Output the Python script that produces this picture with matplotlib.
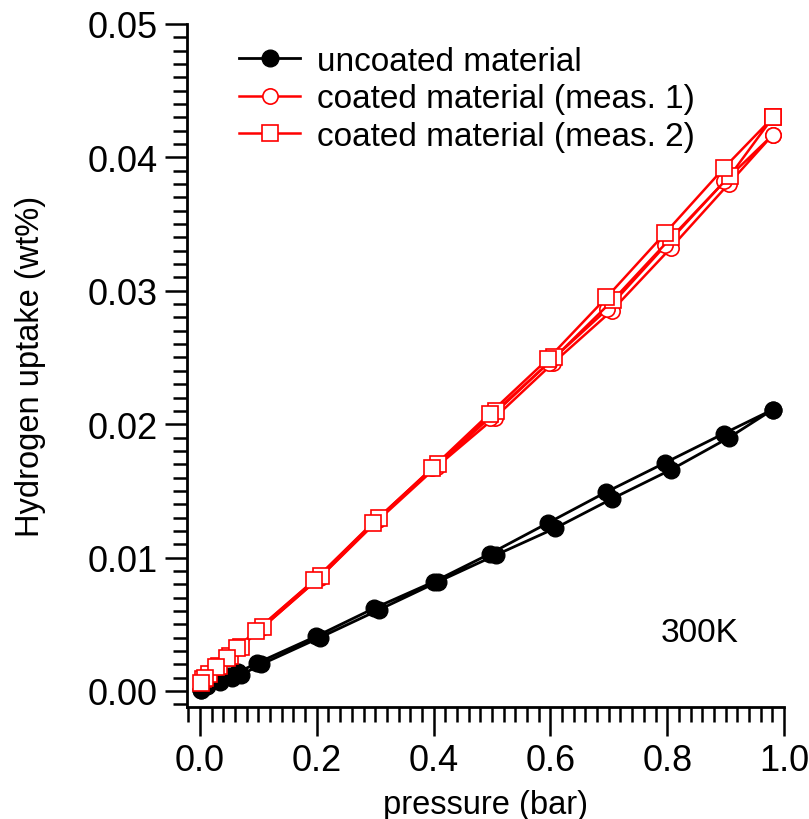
import matplotlib
matplotlib.use("Agg")
import matplotlib.pyplot as plt
from matplotlib.ticker import MultipleLocator
import numpy as np

plt.rcParams['font.family'] = ['Liberation Sans', 'DejaVu Sans']

# uncoated material: adsorption branch, then desorption branch
unc_p_ads = [0.002, 0.012, 0.035, 0.055, 0.070, 0.105, 0.205, 0.307, 0.408, 0.507, 0.608, 0.705, 0.807, 0.906, 0.981]
unc_u_ads = [0.0001, 0.0004, 0.0007, 0.0010, 0.0012, 0.0020, 0.0040, 0.0061, 0.0082, 0.0102, 0.0122, 0.0144, 0.0166, 0.0190, 0.0211]
unc_p_des = [0.981, 0.897, 0.796, 0.695, 0.596, 0.497, 0.401, 0.298, 0.199, 0.098, 0.065, 0.050, 0.030, 0.010, 0.002]
unc_u_des = [0.0211, 0.0193, 0.0171, 0.0149, 0.0126, 0.0103, 0.0082, 0.0062, 0.0041, 0.0021, 0.0014, 0.0011, 0.0008, 0.0004, 0.0001]

# coated material, measurement 1
c1_p_ads = [0.003, 0.012, 0.030, 0.050, 0.068, 0.105, 0.205, 0.305, 0.405, 0.505, 0.605, 0.705, 0.806, 0.905, 0.981]
c1_u_ads = [0.0008, 0.0012, 0.0018, 0.0025, 0.0033, 0.0047, 0.0085, 0.0128, 0.0168, 0.0205, 0.0246, 0.0285, 0.0332, 0.0380, 0.0417]
c1_p_des = [0.981, 0.898, 0.797, 0.697, 0.597, 0.497, 0.398, 0.298, 0.198, 0.098, 0.065, 0.048, 0.028, 0.010, 0.002]
c1_u_des = [0.0417, 0.0382, 0.0334, 0.0286, 0.0246, 0.0205, 0.0167, 0.0127, 0.0084, 0.0046, 0.0033, 0.0026, 0.0019, 0.0012, 0.0008]

# coated material, measurement 2
c2_p_ads = [0.005, 0.015, 0.033, 0.052, 0.070, 0.108, 0.207, 0.307, 0.407, 0.507, 0.607, 0.707, 0.807, 0.907, 0.981]
c2_u_ads = [0.0009, 0.0013, 0.0019, 0.0026, 0.0033, 0.0048, 0.0086, 0.0130, 0.0170, 0.0210, 0.0250, 0.0293, 0.0340, 0.0386, 0.0430]
c2_p_des = [0.981, 0.897, 0.796, 0.696, 0.596, 0.496, 0.397, 0.297, 0.196, 0.096, 0.063, 0.047, 0.027, 0.008, 0.001]
c2_u_des = [0.0430, 0.0392, 0.0343, 0.0295, 0.0249, 0.0208, 0.0167, 0.0126, 0.0083, 0.0045, 0.0032, 0.0025, 0.0018, 0.0010, 0.0006]

labels = ["uncoated material", "coated material (meas. 1)", "coated material (meas. 2)"]

fig = plt.figure(figsize=(8.09, 8.2), dpi=100)
ax = fig.add_axes([187 / 809, 112 / 820, 597 / 809, 683 / 820])

ax.plot(unc_p_ads + unc_p_des, unc_u_ads + unc_u_des, color='black', lw=2.0,
        marker='o', ms=12, mfc='black', mec='black', clip_on=False, label=labels[0])
ax.plot(c1_p_ads + c1_p_des, c1_u_ads + c1_u_des, color='red', lw=1.8,
        marker='o', ms=11, mfc='white', mec='red', mew=1.2, clip_on=False, label=labels[1])
ax.plot(c2_p_ads + c2_p_des, c2_u_ads + c2_u_des, color='red', lw=1.8,
        marker='s', ms=12, mfc='white', mec='red', mew=1.2, clip_on=False, label=labels[2])

ax.set_xlim(-0.0223, 1.0)
ax.set_ylim(-0.0012, 0.05)

for side in ['top', 'right']:
    ax.spines[side].set_visible(False)
for side in ['left', 'bottom']:
    ax.spines[side].set_linewidth(2.0)

ax.xaxis.set_major_locator(MultipleLocator(0.2))
ax.xaxis.set_minor_locator(MultipleLocator(0.02))
ax.yaxis.set_major_locator(MultipleLocator(0.01))
ax.yaxis.set_minor_locator(MultipleLocator(0.001))
ax.xaxis.set_major_formatter(lambda v, pos: f"{v:.1f}")
ax.yaxis.set_major_formatter(lambda v, pos: f"{v:.2f}")

ax.tick_params(which='major', direction='out', width=1.8, labelsize=26, pad=5)
ax.tick_params(which='minor', direction='out', width=1.8)
ax.tick_params(axis='x', which='major', length=21)
ax.tick_params(axis='x', which='minor', length=11)
ax.tick_params(axis='y', which='major', length=16)
ax.tick_params(axis='y', which='minor', length=10)

# Igor-style medium ticks halfway between the majors
for t in ax.xaxis.get_minor_ticks():
    v = t.get_loc()
    if abs(v / 0.1 - round(v / 0.1)) < 1e-6 and round(v / 0.1) % 2 == 1:
        t.tick1line.set_markersize(17)
for t in ax.yaxis.get_minor_ticks():
    v = t.get_loc()
    if abs(v / 0.005 - round(v / 0.005)) < 1e-6 and round(v / 0.005) % 2 == 1:
        t.tick1line.set_markersize(13)

ax.set_xlabel("pressure (bar)", fontsize=23.5, labelpad=8)
ax.set_ylabel("Hydrogen uptake (wt%)", fontsize=23.5, labelpad=30)

ax.text(0.856, 0.0044, "300K", fontsize=24, ha='center', va='center')

ax.legend(loc='upper left', bbox_to_anchor=(222 / 809, 1 - 30 / 820),
          bbox_transform=fig.transFigure, frameon=False, fontsize=24,
          handlelength=1.85, handletextpad=0.5, labelspacing=0.2, borderpad=0)

fig.savefig("out.png", dpi=100)
